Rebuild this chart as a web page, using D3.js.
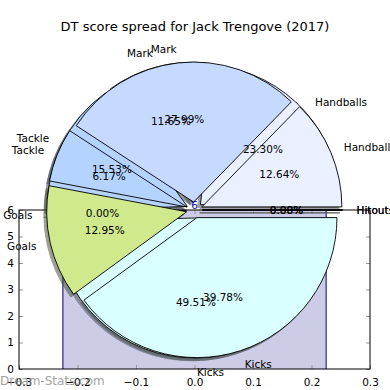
<!DOCTYPE html>
<html>
<head>
<meta charset="utf-8">
<script src="https://d3js.org/d3.v7.min.js"></script>
<style>
  body { margin: 0; background: #fff; }
  text { font-family: "DejaVu Sans", sans-serif; }
</style>
</head>
<body>
<script>
// slices go counter-clockwise from 3 o'clock (matplotlib style)
var categories = ["Hitouts", "Handballs", "Mark", "Tackle", "Goals", "Kicks"];
var pctFirst = [0, 23.30, 11.65, 15.53, 0, 49.51];
var pctSecond = [0, 12.64, 27.99, 6.17, 12.95, 39.78];
var sliceColors = ["#f4f4f4", "#eaf0ff", "#c6d9ff", "#b4d4ff", "#cfe98c", "#d9ffff"];

var xTicks = [-0.3, -0.2, -0.1, 0, 0.1, 0.2, 0.3];
var yTicks = [0, 1, 2, 3, 4, 5, 6];
var barEdges = [-0.225, 0.225];
var barHeight = 6;

var title = "DT score spread for Jack Trengove (2017)";
var watermark = "Dream-Stats.com";

var width = 390, height = 390;
var svg = d3.select("body").append("svg")
    .attr("width", width)
    .attr("height", height);

svg.append("rect").attr("width", width).attr("height", height).attr("fill", "#fff");

var x = d3.scaleLinear().domain([-0.3, 0.3]).range([19, 370]);
var y = d3.scaleLinear().domain([0, 6]).range([369, 210]);

// filled bar behind everything
svg.append("path")
    .attr("d", d3.area()
        .x(function (d) { return x(d); })
        .y0(y(0))
        .y1(y(barHeight))(barEdges))
    .attr("fill", "#000080")
    .attr("fill-opacity", 0.2);
barEdges.forEach(function (b) {
  svg.append("line")
      .attr("x1", x(b)).attr("x2", x(b))
      .attr("y1", y(0)).attr("y2", y(barHeight))
      .attr("stroke", "#000080").attr("stroke-width", 1);
});

// axes, ticks pointing inside
var tickColor = "#999";
function styleAxis(g, showText) {
  g.select(".domain").remove();
  g.selectAll(".tick line").attr("stroke", tickColor);
  g.selectAll(".tick text")
      .attr("fill", showText ? "#000" : "none")
      .style("font-size", "10.5px")
      .style("font-family", "DejaVu Sans, sans-serif");
}
svg.append("g")
    .attr("transform", "translate(0," + y(0) + ")")
    .call(d3.axisBottom(x).tickValues(xTicks).tickFormat(d3.format(".1f"))
        .tickSizeInner(-4).tickSizeOuter(0).tickPadding(10))
    .call(styleAxis, true);
svg.append("g")
    .attr("transform", "translate(0," + y(6) + ")")
    .call(d3.axisTop(x).tickValues(xTicks).tickSizeInner(-4).tickSizeOuter(0))
    .call(styleAxis, false);
svg.append("g")
    .attr("transform", "translate(" + x(-0.3) + ",0)")
    .call(d3.axisLeft(y).tickValues(yTicks).tickFormat(d3.format("d"))
        .tickSizeInner(-4).tickSizeOuter(0).tickPadding(5))
    .call(styleAxis, true);
svg.append("g")
    .attr("transform", "translate(" + x(0.3) + ",0)")
    .call(d3.axisRight(y).tickValues(yTicks).tickSizeInner(-4).tickSizeOuter(0))
    .call(styleAxis, false);

svg.append("rect")
    .attr("x", x(-0.3)).attr("y", y(6))
    .attr("width", x(0.3) - x(-0.3)).attr("height", y(0) - y(6))
    .attr("fill", "none").attr("stroke", "#000").attr("stroke-width", 1);

// two pies laid on top of each other, centred on (0, 6)
var cx = x(0), cy = y(6), R = 140, explode = 8;
var pie = d3.pie().sort(null).value(function (d) { return d; })
    .startAngle(Math.PI / 2).endAngle(Math.PI / 2 - 2 * Math.PI);
var arc = d3.arc().innerRadius(0).outerRadius(R);

function slices(values) {
  return pie(values).map(function (p, i) {
    var mid = (p.startAngle + p.endAngle) / 2;
    p.mid = mid;
    p.color = sliceColors[i];
    p.name = categories[i];
    p.ox = cx + explode * Math.sin(mid);
    p.oy = cy - explode * Math.cos(mid);
    return p;
  });
}
var pies = [slices(pctFirst), slices(pctSecond)];

var shadowLayer = svg.append("g");
var wedgeLayer = svg.append("g");
var textLayer = svg.append("g");

pies.forEach(function (ps) {
  shadowLayer.selectAll(null).data(ps).enter().append("path")
      .attr("transform", function (d) { return "translate(" + (d.ox - 2.8) + "," + (d.oy + 2.8) + ")"; })
      .attr("d", arc)
      .attr("fill", function (d) { var c = d3.rgb(d.color); return d3.rgb(c.r * 0.3, c.g * 0.3, c.b * 0.3); })
      .attr("stroke", function (d) { var c = d3.rgb(d.color); return d3.rgb(c.r * 0.3, c.g * 0.3, c.b * 0.3); })
      .attr("opacity", 0.5);
});

pies.forEach(function (ps) {
  wedgeLayer.append("g").selectAll("path").data(ps).enter().append("path")
      .attr("transform", function (d) { return "translate(" + d.ox + "," + d.oy + ")"; })
      .attr("d", arc)
      .attr("fill", function (d) { return d.color; })
      .attr("stroke", "#000")
      .attr("stroke-width", 0.9)
      .attr("stroke-linejoin", "round");
});

pies.forEach(function (ps) {
  textLayer.selectAll(null).data(ps).enter().append("text")
      .attr("x", function (d) { return d.ox + 1.1 * R * Math.sin(d.mid); })
      .attr("y", function (d) { return d.oy - 1.1 * R * Math.cos(d.mid); })
      .attr("text-anchor", function (d) { return Math.sin(d.mid) > 0 ? "start" : "end"; })
      .attr("dominant-baseline", "central")
      .style("font-size", "10.5px")
      .text(function (d) { return d.name; });
  textLayer.selectAll(null).data(ps).enter().append("text")
      .attr("x", function (d) { return d.ox + 0.6 * R * Math.sin(d.mid); })
      .attr("y", function (d) { return d.oy - 0.6 * R * Math.cos(d.mid); })
      .attr("text-anchor", "middle")
      .attr("dominant-baseline", "central")
      .style("font-size", "10.5px")
      .text(function (d) { return d.data.toFixed(2) + "%"; });
});

// bar value label
textLayer.append("text")
    .attr("x", x(0)).attr("y", y(barHeight) - 1)
    .attr("text-anchor", "middle")
    .attr("fill", "#1010c8")
    .style("font-size", "10.5px")
    .text(barHeight);

svg.append("text")
    .attr("x", width / 2).attr("y", 31)
    .attr("text-anchor", "middle")
    .style("font-size", "13px")
    .text(title);

svg.append("text")
    .attr("x", 0).attr("y", 385)
    .attr("fill", "#888")
    .attr("fill-opacity", 0.8)
    .style("font-size", "12px")
    .text(watermark);
</script>
</body>
</html>
